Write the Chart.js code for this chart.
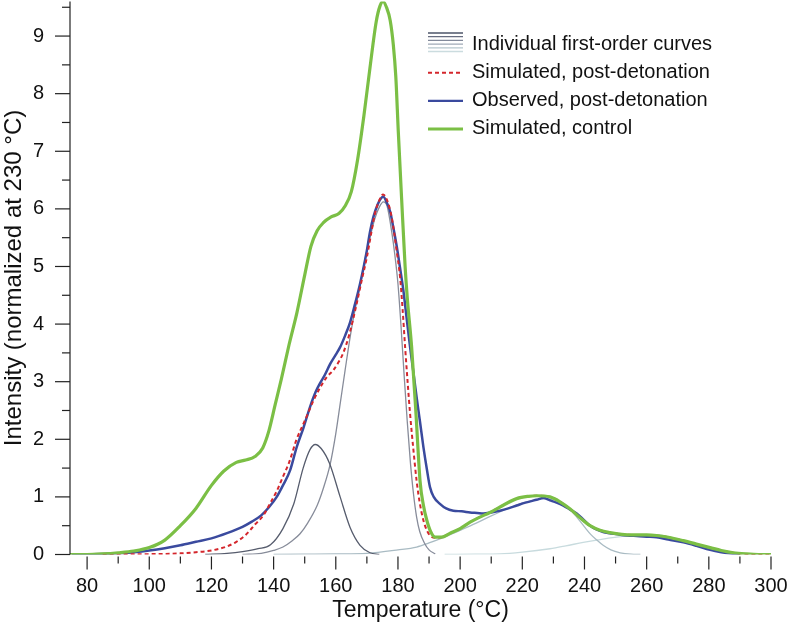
<!DOCTYPE html>
<html>
<head>
<meta charset="utf-8">
<script src="https://cdn.jsdelivr.net/npm/chart.js@4.4.0/dist/chart.umd.min.js"></script>
<style>
html, body { margin: 0; padding: 0; background: #fff; }
</style>
</head>
<body>
<canvas id="chart" width="788" height="627"></canvas>
<script>
// simulated, control
const controlT = [74.5, 80, 85, 90, 95, 100, 105, 110, 115, 120, 124, 128, 131, 134, 136.5, 138.5, 140.5, 142.5, 145, 147.5, 150, 152, 154, 156, 158.5, 161, 163, 165, 167, 169, 171, 173, 174.2, 175.2, 176.3, 177.5, 178.5, 179.3, 180.1, 181.2, 182.3, 183, 184.4, 185.8, 187.1, 188.2, 189.3, 190.5, 192, 194, 196.8, 200, 203.2, 206, 209.6, 214, 218.2, 222, 224.6, 228.9, 232, 235.4, 238.5, 241.8, 245, 248.2, 252, 255.7, 260, 263.2, 267, 271.8, 276, 280.4, 284, 287.9, 292, 296, 300];
const controlI = [0, 0, 0.01, 0.03, 0.06, 0.12, 0.25, 0.5, 0.8, 1.2, 1.45, 1.6, 1.64, 1.7, 1.85, 2.15, 2.6, 3.05, 3.65, 4.2, 4.85, 5.35, 5.62, 5.76, 5.86, 5.92, 6.05, 6.3, 6.85, 7.6, 8.45, 9.25, 9.52, 9.6, 9.5, 9.27, 8.85, 8.3, 7.35, 6.15, 5.0, 4.45, 3.6, 2.44, 1.28, 0.85, 0.59, 0.4, 0.3, 0.3, 0.37, 0.45, 0.56, 0.64, 0.73, 0.86, 0.97, 1.01, 1.02, 1.0, 0.92, 0.79, 0.64, 0.5, 0.42, 0.38, 0.35, 0.34, 0.34, 0.33, 0.3, 0.24, 0.18, 0.12, 0.07, 0.03, 0.01, 0, 0];

// simulated, post-detonation
const simPostT = [85, 95, 105, 110, 115, 120, 125, 128, 131, 134, 136.7, 139, 141, 143, 145, 147.4, 150.1, 152.8, 155, 157.1, 159.2, 161, 162.4, 164.4, 166.7, 168.5, 170, 171.3, 172.6, 174, 175.2, 176.5, 178, 179.5, 180.7, 181.5, 182.3, 183.1, 183.9, 185, 186, 187, 188.2, 189.3, 190.3, 192, 194, 196.8, 200, 203.2, 206, 209.6, 214, 218.2, 222, 224.6, 228.9, 232, 235.4, 238.5, 241.8, 245, 248.2, 252, 255.7, 260, 263.2, 267, 271.8, 276, 280.4, 284, 287.9, 292, 296, 300];
const simPostI = [0, 0.005, 0.01, 0.02, 0.04, 0.07, 0.14, 0.22, 0.34, 0.52, 0.68, 0.9, 1.1, 1.35, 1.6, 2.0, 2.33, 2.67, 2.9, 3.08, 3.2, 3.35, 3.5, 3.83, 4.35, 4.8, 5.16, 5.55, 5.92, 6.15, 6.25, 6.15, 5.85, 5.3, 4.8, 4.25, 3.6, 3.0, 2.44, 1.8, 1.28, 0.9, 0.59, 0.42, 0.33, 0.29, 0.3, 0.37, 0.45, 0.56, 0.64, 0.73, 0.86, 0.97, 1.01, 1.02, 1.0, 0.92, 0.79, 0.64, 0.5, 0.42, 0.38, 0.35, 0.34, 0.34, 0.33, 0.3, 0.24, 0.18, 0.12, 0.07, 0.03, 0.01, 0, 0];

// observed, post-detonation
const obsT = [75, 80, 85, 90, 95, 100, 105, 110, 115, 120, 125, 130, 133, 136, 138.5, 141, 143, 145.3, 147.4, 149.6, 151.7, 153.5, 155, 156.5, 158.2, 160, 161.4, 163, 164.6, 166.2, 167.8, 169, 170, 171, 172.1, 173.5, 174.5, 175.3, 176.3, 177.5, 178.5, 179.6, 180.6, 181.7, 182.8, 183.9, 185, 186, 187.1, 188.2, 189.3, 190.3, 191.5, 193.5, 195.5, 197.8, 200.5, 203.2, 205.5, 207.5, 210, 212.8, 215.5, 218.2, 221, 224.6, 226.8, 228.9, 231, 233.2, 235.4, 237.5, 239.6, 241.8, 244, 246, 248.2, 252, 256.8, 260, 263.2, 267, 271.8, 276, 280.4, 284, 288, 290];
const obsI = [0, 0.005, 0.01, 0.02, 0.04, 0.07, 0.11, 0.16, 0.22, 0.28, 0.37, 0.48, 0.57, 0.68, 0.82, 1.0, 1.2, 1.46, 1.86, 2.2, 2.56, 2.82, 2.98, 3.12, 3.31, 3.47, 3.6, 3.8, 4.03, 4.35, 4.7, 5.0, 5.28, 5.6, 5.86, 6.08, 6.18, 6.21, 6.12, 5.95, 5.68, 5.35, 5.0, 4.6, 4.1, 3.6, 3.15, 2.73, 2.3, 1.86, 1.48, 1.17, 1.0, 0.88, 0.8, 0.76, 0.75, 0.73, 0.72, 0.71, 0.73, 0.76, 0.8, 0.85, 0.9, 0.95, 0.98, 0.94, 0.9, 0.85, 0.78, 0.71, 0.61, 0.5, 0.43, 0.39, 0.37, 0.34, 0.32, 0.31, 0.3, 0.26, 0.21, 0.15, 0.08, 0.04, 0.01, 0];

// individual first-order curves
const curve1T = [118, 125, 130, 135, 139, 143, 146.5, 149.5, 151.7, 153.4, 155.3, 158, 161.4, 164.6, 167.8, 171, 174];
const curve1I = [0, 0.02, 0.05, 0.1, 0.17, 0.45, 0.88, 1.5, 1.82, 1.91, 1.84, 1.58, 1.0, 0.47, 0.16, 0.03, 0];
const curve2T = [130, 136, 140, 143, 146, 148.5, 151, 154, 156, 158.2, 160, 161.5, 163, 164.6, 166, 167.8, 169.5, 171, 172.5, 174, 175.3, 176.5, 178, 179, 180, 181, 182, 183, 184, 185, 186, 187, 188.5, 190, 192];
const curve2I = [0, 0.02, 0.07, 0.13, 0.24, 0.36, 0.55, 0.85, 1.15, 1.57, 2.1, 2.65, 3.2, 3.77, 4.2, 4.65, 5.15, 5.5, 5.82, 6.03, 6.12, 6.05, 5.6, 5.2, 4.7, 3.95, 3.1, 2.3, 1.6, 1.05, 0.65, 0.4, 0.2, 0.08, 0.01];
const curve3T = [140, 150, 160, 170, 180, 186, 190, 193.5, 197, 200, 205, 210, 215, 220, 224, 226.5, 229, 232, 235, 237.5, 240, 242, 244, 246, 248.5, 251.5, 255, 258];
const curve3I = [0, 0.005, 0.01, 0.02, 0.08, 0.13, 0.2, 0.27, 0.35, 0.42, 0.54, 0.67, 0.79, 0.89, 0.95, 0.97, 0.96, 0.91, 0.8, 0.65, 0.48, 0.35, 0.25, 0.16, 0.08, 0.03, 0.005, 0];
const curve4T = [195, 205, 212.8, 220, 228.9, 234, 239.6, 245, 250.4, 256.8, 261, 264, 267, 270, 274, 278, 282, 286, 290, 294, 297];
const curve4I = [0, 0.005, 0.01, 0.04, 0.1, 0.15, 0.21, 0.26, 0.3, 0.335, 0.345, 0.34, 0.31, 0.27, 0.21, 0.14, 0.08, 0.04, 0.015, 0.003, 0];

const xTicks = [80, 100, 120, 140, 160, 180, 200, 220, 240, 260, 280, 300];
const xMinor = [90, 110, 130, 150, 170, 190, 210, 230, 250, 270, 290];
const yTicks = [0, 1, 2, 3, 4, 5, 6, 7, 8, 9];
const yMinor = [0.5, 1.5, 2.5, 3.5, 4.5, 5.5, 6.5, 7.5, 8.5, 9.5];

const legendLabels = ['Individual first-order curves', 'Simulated, post-detonation', 'Observed, post-detonation', 'Simulated, control'];

const GREEN = '#7bbf45';
const RED = '#d4262c';
const BLUE = '#3a4a9e';
const curveColors = ['#565c6d', '#878c9a', '#a9bbc3', '#c8dbde'];
const FONT = '"Liberation Sans", Arial, Helvetica, sans-serif';

const pts = (xs, ys) => xs.map((x, i) => ({ x: x, y: ys[i] }));

const axisTicks = {
    id: 'axisTicks',
    afterDraw(chart) {
        const { ctx, scales: { x, y } } = chart;
        const base = y.getPixelForValue(0);
        ctx.save();
        ctx.strokeStyle = '#222';
        ctx.lineWidth = 1.2;
        ctx.beginPath();
        ctx.moveTo(y.right, y.top);
        ctx.lineTo(y.right, base);
        ctx.stroke();
        yTicks.concat(yMinor).forEach(v => {
            const py = y.getPixelForValue(v);
            const len = Number.isInteger(v) ? 15 : 8;
            ctx.beginPath();
            ctx.moveTo(y.right - len, py);
            ctx.lineTo(y.right, py);
            ctx.stroke();
        });
        xTicks.concat(xMinor).forEach(v => {
            const px = x.getPixelForValue(v);
            const len = xTicks.includes(v) ? 13 : 7;
            ctx.beginPath();
            ctx.moveTo(px, base + 2);
            ctx.lineTo(px, base + 2 + len);
            ctx.stroke();
        });
        ctx.restore();
    }
};

const customLegend = {
    id: 'customLegend',
    afterDraw(chart) {
        const ctx = chart.ctx;
        const x0 = 428, x1 = 463, tx = 472, y0 = 49.5, gap = 28.2;
        ctx.save();
        ctx.font = '20px ' + FONT;
        ctx.fillStyle = '#111';
        ctx.textBaseline = 'alphabetic';
        legendLabels.forEach((t, i) => ctx.fillText(t, tx, y0 + i * gap));
        // stacked lines for the individual curves
        const stack = ['#4d5468', '#676d80', '#838a9b', '#9fa9b6', '#b6c6cd', '#cbdcdf'];
        ctx.lineWidth = 1.3;
        stack.forEach((c, i) => {
            ctx.strokeStyle = c;
            ctx.beginPath();
            ctx.moveTo(x0, 33 + i * 3.7);
            ctx.lineTo(x1, 33 + i * 3.7);
            ctx.stroke();
        });
        const row = [null, RED, BLUE, GREEN];
        const widths = [0, 2, 2.2, 3];
        for (let i = 1; i < 4; i++) {
            const ly = y0 + i * gap - 5;
            ctx.strokeStyle = row[i];
            ctx.lineWidth = widths[i];
            ctx.setLineDash(i === 1 ? [4, 3] : []);
            ctx.beginPath();
            ctx.moveTo(x0, ly);
            ctx.lineTo(x1, ly);
            ctx.stroke();
        }
        ctx.restore();
    }
};

const lineDs = (label, data, color, width, extra) => Object.assign({
    label: label,
    data: data,
    borderColor: color,
    borderWidth: width,
    pointRadius: 0,
    fill: false,
    cubicInterpolationMode: 'monotone'
}, extra || {});

new Chart(document.getElementById('chart').getContext('2d'), {
    type: 'line',
    data: {
        datasets: [
            lineDs('Simulated, control', pts(controlT, controlI), GREEN, 3.2),
            lineDs('Simulated, post-detonation', pts(simPostT, simPostI), RED, 2, { borderDash: [4, 3] }),
            lineDs('Observed, post-detonation', pts(obsT, obsI), BLUE, 2.5),
            lineDs('curve 1', pts(curve1T, curve1I), curveColors[0], 1.3),
            lineDs('curve 2', pts(curve2T, curve2I), curveColors[1], 1.3),
            lineDs('curve 3', pts(curve3T, curve3I), curveColors[2], 1.3),
            lineDs('curve 4', pts(curve4T, curve4I), curveColors[3], 1.3)
        ]
    },
    options: {
        responsive: false,
        animation: false,
        devicePixelRatio: 1,
        layout: { padding: { top: 1.5, right: 17, left: 0, bottom: 0 } },
        plugins: {
            legend: { display: false },
            tooltip: { enabled: false }
        },
        scales: {
            x: {
                type: 'linear',
                min: 74.5,
                max: 300,
                afterBuildTicks: s => { s.ticks = xTicks.map(v => ({ value: v })); },
                afterFit: s => { s.height = 72.5; s.paddingLeft = 0; s.paddingRight = 0; },
                grid: { display: false },
                border: { display: false },
                ticks: { color: '#111', padding: 12, maxRotation: 0, autoSkip: false, font: { family: FONT, size: 20 } },
                title: { display: true, text: 'Temperature (°C)', color: '#111', padding: { top: 0, bottom: 3 }, font: { family: FONT, size: 23 } }
            },
            y: {
                min: 0,
                max: 9.6,
                afterBuildTicks: s => { s.ticks = yTicks.map(v => ({ value: v })); },
                afterFit: s => { s.width = 70; s.paddingTop = 0; s.paddingBottom = 0; },
                grid: { display: false },
                border: { display: false },
                ticks: { color: '#111', padding: 18, font: { family: FONT, size: 20 } },
                title: { display: true, text: 'Intensity (normalized at 230 °C)', color: '#111', padding: { top: 0, bottom: 0 }, font: { family: FONT, size: 24 } }
            }
        }
    },
    plugins: [axisTicks, customLegend]
});
</script>
</body>
</html>
